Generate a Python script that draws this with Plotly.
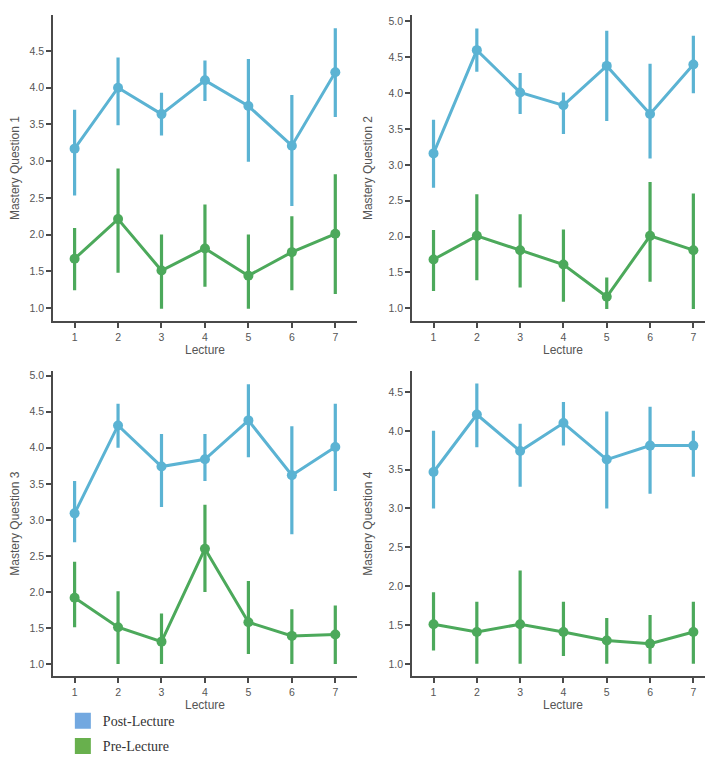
import plotly.graph_objects as go

lectures = [1, 2, 3, 4, 5, 6, 7]

# Question 1
q1_post = [3.17, 4.00, 3.64, 4.10, 3.75, 3.21, 4.21]
q1_post_hi = [3.70, 4.41, 3.93, 4.37, 4.39, 3.90, 4.81]
q1_post_lo = [2.53, 3.49, 3.35, 3.82, 2.99, 2.39, 3.60]
q1_pre = [1.67, 2.21, 1.51, 1.81, 1.44, 1.76, 2.01]
q1_pre_hi = [2.09, 2.90, 2.00, 2.41, 2.00, 2.25, 2.82]
q1_pre_lo = [1.24, 1.48, 0.99, 1.29, 0.99, 1.24, 1.19]

# Question 2
q2_post = [3.16, 4.60, 4.01, 3.83, 4.38, 3.71, 4.40]
q2_post_hi = [3.63, 4.90, 4.28, 4.01, 4.87, 4.41, 4.80]
q2_post_lo = [2.68, 4.30, 3.71, 3.43, 3.61, 3.09, 4.00]
q2_pre = [1.68, 2.01, 1.81, 1.61, 1.16, 2.01, 1.81]
q2_pre_hi = [2.09, 2.59, 2.31, 2.10, 1.43, 2.76, 2.60]
q2_pre_lo = [1.24, 1.39, 1.29, 1.09, 0.99, 1.37, 0.99]

# Question 3
q3_post = [3.09, 4.31, 3.74, 3.84, 4.38, 3.62, 4.01]
q3_post_hi = [3.54, 4.61, 4.19, 4.19, 4.88, 4.30, 4.61]
q3_post_lo = [2.69, 4.00, 3.18, 3.54, 3.87, 2.80, 3.40]
q3_pre = [1.92, 1.51, 1.31, 2.60, 1.58, 1.39, 1.41]
q3_pre_hi = [2.42, 2.01, 1.70, 3.21, 2.15, 1.76, 1.81]
q3_pre_lo = [1.51, 1.00, 1.00, 2.00, 1.14, 1.00, 1.00]

# Question 4
q4_post = [3.47, 4.21, 3.74, 4.10, 3.63, 3.81, 3.81]
q4_post_hi = [4.00, 4.61, 4.09, 4.37, 4.25, 4.31, 4.00]
q4_post_lo = [3.00, 3.79, 3.28, 3.81, 3.00, 3.19, 3.41]
q4_pre = [1.51, 1.41, 1.51, 1.41, 1.30, 1.26, 1.41]
q4_pre_hi = [1.92, 1.80, 2.20, 1.80, 1.59, 1.63, 1.80]
q4_pre_lo = [1.17, 1.00, 1.00, 1.10, 1.00, 1.00, 1.00]

panels = [
    ("Mastery Question 1", q1_post, q1_post_hi, q1_post_lo, q1_pre, q1_pre_hi, q1_pre_lo, [0.82, 4.99], [1.0, 1.5, 2.0, 2.5, 3.0, 3.5, 4.0, 4.5]),
    ("Mastery Question 2", q2_post, q2_post_hi, q2_post_lo, q2_pre, q2_pre_hi, q2_pre_lo, [0.82, 5.09], [1.0, 1.5, 2.0, 2.5, 3.0, 3.5, 4.0, 4.5, 5.0]),
    ("Mastery Question 3", q3_post, q3_post_hi, q3_post_lo, q3_pre, q3_pre_hi, q3_pre_lo, [0.83, 5.065], [1.0, 1.5, 2.0, 2.5, 3.0, 3.5, 4.0, 4.5, 5.0]),
    ("Mastery Question 4", q4_post, q4_post_hi, q4_post_lo, q4_pre, q4_pre_hi, q4_pre_lo, [0.84, 4.77], [1.0, 1.5, 2.0, 2.5, 3.0, 3.5, 4.0, 4.5]),
]

POST_COLOR = "#5bb3d3"
PRE_COLOR = "#4ca95b"
LEG_POST = "#72a8e0"
LEG_PRE = "#68b04d"
AXIS_COLOR = "#4a4a4a"
TEXT_COLOR = "#555555"

W, H = 713, 758
# pixel boxes of each plot area: (left, right, top, bottom)
boxes = [(43, 348, 5, 312), (403, 707, 5, 312), (43, 348, 362, 668), (403, 707, 362, 668)]

fig = go.Figure()
layout = {}
annotations = []
for i, (title, post, post_hi, post_lo, pre, pre_hi, pre_lo, yr, yt) in enumerate(panels):
    n = "" if i == 0 else str(i + 1)
    xa, ya = "x" + n, "y" + n
    for vals, hi, lo, col in [(pre, pre_hi, pre_lo, PRE_COLOR), (post, post_hi, post_lo, POST_COLOR)]:
        fig.add_trace(go.Scatter(
            x=lectures, y=vals, xaxis=xa, yaxis=ya, mode="lines+markers",
            line=dict(color=col, width=3), marker=dict(color=col, size=10),
            error_y=dict(type="data", symmetric=False,
                         array=[h - v for h, v in zip(hi, vals)],
                         arrayminus=[v - l for v, l in zip(vals, lo)],
                         color=col, thickness=3.2, width=0),
            showlegend=False, hoverinfo="skip"))
    l, r, t, b = boxes[i]
    common = dict(showline=True, linecolor=AXIS_COLOR, linewidth=1.5, ticks="outside",
                  ticklen=5, tickwidth=1.5, tickcolor=AXIS_COLOR, showgrid=False, zeroline=False,
                  tickfont=dict(family="Liberation Sans, Arial", size=10.5, color=TEXT_COLOR),
                  mirror=False)
    layout["xaxis" + n] = dict(common, domain=[l / W, r / W], anchor=ya, range=[0.5, 7.5],
                               tickvals=lectures, ticktext=[str(v) for v in lectures])
    layout["yaxis" + n] = dict(common, domain=[1 - b / H, 1 - t / H], anchor=xa, range=yr,
                               tickvals=yt, ticktext=["%.1f" % v for v in yt],
                               title=dict(text=title, standoff=13,
                                          font=dict(family="Liberation Sans, Arial", size=12, color=TEXT_COLOR)))
    annotations.append(dict(text="Lecture", xref=xa + " domain", yref=ya + " domain", x=0.5, y=0,
                            xanchor="center", yanchor="middle", yshift=-29, showarrow=False,
                            font=dict(family="Liberation Sans, Arial", size=12, color=TEXT_COLOR)))

# legend entries
fig.add_trace(go.Scatter(x=[None], y=[None], mode="markers", name="Post-Lecture", legendgroup="post",
                         marker=dict(symbol="square", size=16, color=LEG_POST), showlegend=True))
fig.add_trace(go.Scatter(x=[None], y=[None], mode="markers", name="Pre-Lecture", legendgroup="pre",
                         marker=dict(symbol="square", size=16, color=LEG_PRE), showlegend=True))

fig.update_layout(
    width=W, height=H, margin=dict(l=0, r=0, t=0, b=0),
    paper_bgcolor="white", plot_bgcolor="white",
    legend=dict(x=53 / W, y=1 - 697 / H, xanchor="left", yanchor="top",
                font=dict(family="Liberation Serif, Times New Roman", size=14, color="#333333"),
                itemsizing="trace", tracegroupgap=4, bgcolor="rgba(0,0,0,0)"),
    annotations=annotations,
    **layout)

fig.write_html("out.html")
